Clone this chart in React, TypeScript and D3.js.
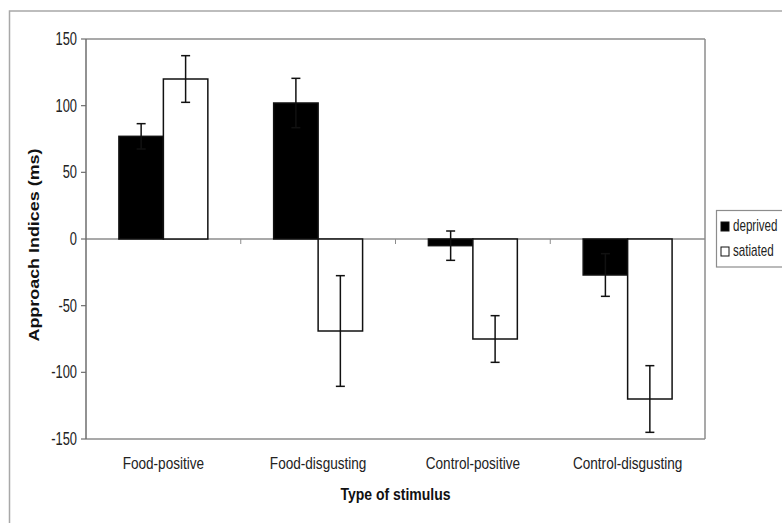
import React from 'react';
import * as d3 from 'd3';

// chart data
const categories = ['Food-positive', 'Food-disgusting', 'Control-positive', 'Control-disgusting'];
const seriesNames = ['deprived', 'satiated'];
const deprived = [77, 102, -5, -27];
const deprivedErr = [9.5, 18.5, 11, 16];
const satiated = [120, -69, -75, -120];
const satiatedErr = [17.5, 41.5, 17.5, 25];
const yTicks = [-150, -100, -50, 0, 50, 100, 150];

const W = 782;
const H = 523;
const FONT = '"Liberation Sans", Arial, sans-serif';

function App() {
  const left = 86, right = 705, top = 39, bottom = 439;

  const x = d3.scaleBand().domain(categories).range([left, right]);
  const xs = d3.scaleBand().domain(seriesNames).range([0, x.bandwidth()]).paddingOuter(0.74);
  const y = d3.scaleLinear().domain([-150, 150]).range([bottom, top]);

  const series = [
    { name: 'deprived', values: deprived, errs: deprivedErr, fill: '#000' },
    { name: 'satiated', values: satiated, errs: satiatedErr, fill: '#fff' },
  ];

  const capW = 9;

  return (
    <svg width={W} height={H} style={{ display: 'block' }} fontFamily={FONT}>
      <style>{'body{margin:0}'}</style>
      <rect x={0} y={0} width={W} height={H} fill="#fff" />
      {/* outer frame */}
      <rect x={9.5} y={11} width={900} height={700} fill="none" stroke="#a8a8a8" strokeWidth={1.5} />

      {/* plot frame */}
      <line x1={left} x2={right} y1={top} y2={top} stroke="#8c8c8c" strokeWidth={1.5} />
      <line x1={right} x2={right} y1={top} y2={bottom} stroke="#8c8c8c" strokeWidth={1.5} />
      <line x1={left} x2={right} y1={bottom} y2={bottom} stroke="#8c8c8c" strokeWidth={1.5} />

      {/* zero line and category ticks */}
      <line x1={left} x2={right} y1={y(0)} y2={y(0)} stroke="#8c8c8c" strokeWidth={1.5} />
      {categories.slice(1).map(c => (
        <line key={c} x1={x(c)} x2={x(c)} y1={y(0)} y2={y(0) + 5} stroke="#8c8c8c" strokeWidth={1} />
      ))}

      {/* bars */}
      {series.map(s => (
        <g key={s.name}>
          {categories.map((c, i) => {
            const x0 = (x(c) as number) + (xs(s.name) as number);
            const v = s.values[i];
            return (
              <rect key={c} x={x0} width={xs.bandwidth()}
                y={Math.min(y(v), y(0))} height={Math.abs(y(v) - y(0))}
                fill={s.fill} stroke="#111" strokeWidth={1.5} />
            );
          })}
        </g>
      ))}

      {/* error bars */}
      {series.map(s => (
        <g key={s.name + '-err'} stroke="#111" strokeWidth={1.5}>
          {categories.map((c, i) => {
            const cx = (x(c) as number) + (xs(s.name) as number) + xs.bandwidth() / 2;
            const hi = y(s.values[i] + s.errs[i]);
            const lo = y(s.values[i] - s.errs[i]);
            return (
              <g key={c}>
                <line x1={cx} x2={cx} y1={hi} y2={lo} />
                <line x1={cx - capW / 2} x2={cx + capW / 2} y1={hi} y2={hi} />
                <line x1={cx - capW / 2} x2={cx + capW / 2} y1={lo} y2={lo} />
              </g>
            );
          })}
        </g>
      ))}

      {/* y axis */}
      <line x1={left} x2={left} y1={top} y2={bottom} stroke="#6e6e6e" strokeWidth={1.5} />
      {yTicks.map(t => (
        <g key={t}>
          <line x1={left - 5} x2={left} y1={y(t)} y2={y(t)} stroke="#6e6e6e" strokeWidth={1.2} />
          <text transform={`translate(${left - 9},${y(t) + 6}) scale(0.92,1.25)`}
            textAnchor="end" fontSize={14} fill="#222">{t}</text>
        </g>
      ))}

      {/* category labels */}
      {categories.map(c => (
        <text key={c} transform={`translate(${(x(c) as number) + x.bandwidth() / 2},${469}) scale(0.97,1.15)`}
          textAnchor="middle" fontSize={14} fill="#222">{c}</text>
      ))}

      {/* axis titles */}
      <text transform={`translate(${(left + right) / 2},${500}) scale(1,1.15)`} textAnchor="middle"
        fontSize={14} fontWeight="bold" fill="#111">Type of stimulus</text>
      <text transform={`translate(39,${(top + bottom) / 2 + 6}) rotate(-90) scale(1.28,1.05)`} textAnchor="middle"
        fontSize={14} fontWeight="bold" fill="#111">Approach Indices (ms)</text>

      {/* legend */}
      <rect x={716.5} y={210.5} width={100} height={56.5} fill="#fff" stroke="#8c8c8c" strokeWidth={1.2} />
      {series.map((s, i) => (
        <g key={s.name + '-leg'} transform={`translate(721,${222 + i * 25})`}>
          <rect x={0} y={0} width={8} height={9} fill={s.fill} stroke="#111" strokeWidth={1} />
          <text transform={`translate(12,9) scale(0.86,1.2)`} fontSize={13.5} fill="#222">{s.name}</text>
        </g>
      ))}
    </svg>
  );
}

export default App;
